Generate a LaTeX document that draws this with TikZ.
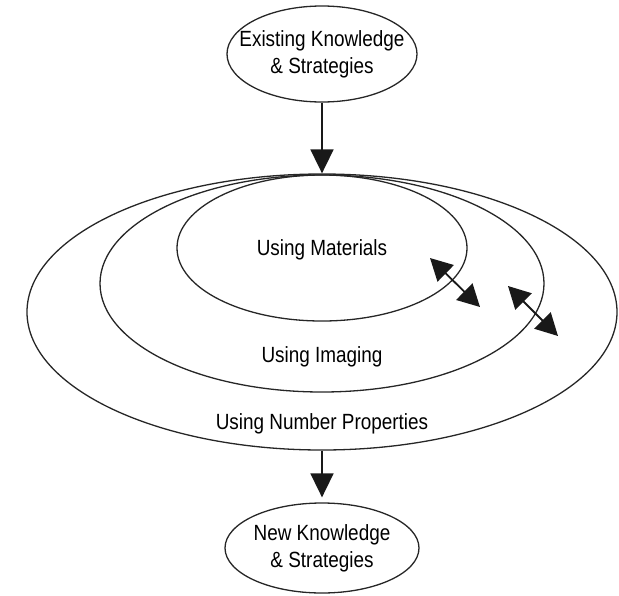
\documentclass[tikz,border=0pt]{standalone}
\usepackage{fontspec}
\setmainfont{Liberation Sans}[FakeStretch=0.86]
\usetikzlibrary{arrows.meta,shapes.geometric}

\begin{document}
\begin{tikzpicture}[x=1pt,y=-1pt,
  font=\fontsize{22}{27}\selectfont,
  stage/.style={ellipse,draw=black!85,line width=1.3pt,inner xsep=-20pt,inner ysep=0pt,align=center},
  ring/.style={ellipse,draw=black!85,line width=1.3pt,inner sep=0pt},
  ringtext/.style={inner sep=0pt},
  flow/.style={-{Triangle[length=24pt,width=23pt]},line width=1.8pt,draw=black!90},
  swap/.style={{Triangle[length=22pt,width=23pt]}-{Triangle[length=22pt,width=23pt]},line width=1.8pt,draw=black!90}]

\path[use as bounding box] (0,0) rectangle (619,595);
\node[stage,minimum width=190pt,minimum height=96pt] (existing) at (322,54)
  {Existing Knowledge\\\& Strategies};
\node[ring,minimum width=590pt,minimum height=276pt] (outer) at (322,312) {};
\node[ring,minimum width=444pt,minimum height=217pt] (middle) at (322,283.5) {};
\node[ring,minimum width=290pt,minimum height=146pt] (inner) at (322,248) {};
\node[ringtext] (materials) at (322,250) {Using Materials};
\node[ringtext] (imaging) at (322,357) {Using Imaging};
\node[ringtext] (properties) at (322,424) {Using Number Properties};
\node[stage,minimum width=194pt,minimum height=90pt] (new) at (322,548)
  {New Knowledge\\\& Strategies};

\draw[flow] (existing)--(outer.north);
\draw[flow,shorten >=5pt] (outer.south)--(new);

\coordinate (swapa1) at (430,258);
\coordinate (swapa2) at (480,307);
\coordinate (swapb1) at (508,286);
\coordinate (swapb2) at (558,336);
\draw[swap] (swapa1)--(swapa2);
\draw[swap] (swapb1)--(swapb2);

\end{tikzpicture}
\end{document}
